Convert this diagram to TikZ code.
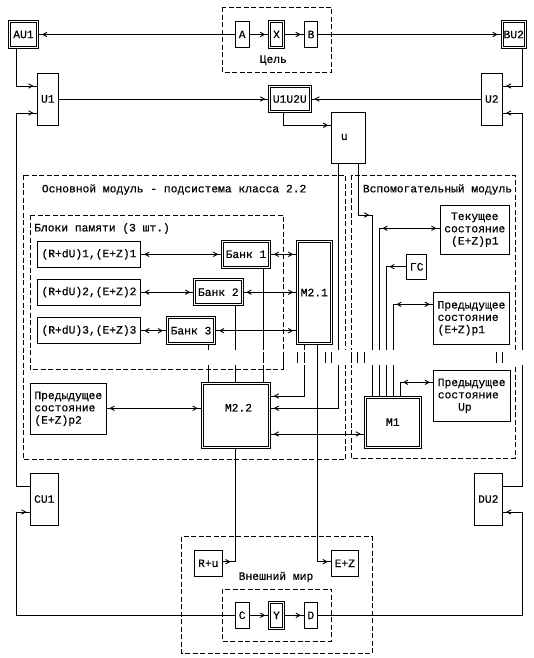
\documentclass[tikz,border=0pt]{standalone}
\usepackage{fontspec}
\newfontfamily\dmono[FakeBold=0.4]{Liberation Mono}
\usetikzlibrary{decorations.markings}
\tikzset{
  every node/.style={font=\dmono\fontsize{11.3pt}{12.3pt}\selectfont, inner sep=0pt},
  ln/.style={line width=0.9pt},
  bx/.style={draw, line width=0.9pt, inner sep=0pt, fill=white},
  dbx/.style={draw, line width=0.8pt, inner sep=0pt, fill=white,
    path picture={\draw[line width=0.8pt] ([shift={(2pt,-2pt)}]path picture bounding box.north west) rectangle ([shift={(-2pt,2pt)}]path picture bounding box.south east);}},
  dsh/.style={line width=0.9pt, dash pattern=on 5pt off 2.5pt},
  ae/.style={postaction={decorate, decoration={markings, mark=at position -0.01pt with {\draw[line width=0.9pt, solid] (-8pt,2.2pt) -- (-4pt,0pt) -- (-8pt,-2.2pt);}}}},
  as/.style={postaction={decorate, decoration={markings, mark=at position 0.01pt with {\draw[line width=0.9pt, solid] (8pt,2.2pt) -- (4pt,0pt) -- (8pt,-2.2pt);}}}},
  aer/.style={postaction={decorate, decoration={markings, mark=at position -0.01pt with {\draw[line width=0.9pt, solid] (-2.5pt,2.2pt) -- (-6.5pt,0pt) -- (-2.5pt,-2.2pt);}}}},
}
\begin{document}
\begin{tikzpicture}[x=1pt,y=-1pt]
\fill[white] (0,0) rectangle (534,658);
\useasboundingbox (0,0) rectangle (534,658);

% dashed frames
\draw[dsh] (222.3,7.3) rectangle (331.7,72.3);
\draw[dsh] (23.3,175) rectangle (345.7,459.3);
\draw[dsh] (30,215) rectangle (283.3,369.3);
\draw[dsh] (351.7,175) rectangle (515,458.3);
\draw[dsh] (181.7,536.7) rectangle (372.3,653.3);
\draw[dsh] (222.3,589) rectangle (331.7,641);

% top row
\node[dbx, minimum width=30.2pt, minimum height=28.2pt] (AU1) at (23.5,34.5) {AU1};
\node[bx, minimum width=14.3pt, minimum height=26pt] (A) at (242.2,34.5) {A};
\node[dbx, minimum width=15.6pt, minimum height=28.2pt] (X) at (276.5,34.5) {X};
\node[bx, minimum width=13.4pt, minimum height=26pt] (B) at (311,34.5) {B};
\node[dbx, minimum width=25.2pt, minimum height=28.2pt] (BU2) at (513.7,34.5) {BU2};
\node (tcel) at (273.3,60.3) {Цель};

\node[bx, minimum width=21.7pt, minimum height=52pt] (U1) at (47.8,99) {U1};
\node[dbx, minimum width=42.2pt, minimum height=26.9pt] (U1U2U) at (289.8,99) {U1U2U};
\node[bx, minimum width=21.7pt, minimum height=52pt] (U2) at (491.8,99) {U2};
\node[bx, minimum width=33.3pt, minimum height=51.3pt] (u) at (348.3,137.7) {};
\node (ulab) at (344.3,137) {u};

% main module
\node[anchor=west] (tmain) at (41.7,189.5) {Основной модуль - подсистема класса 2.2};
\node[anchor=west] (tmem) at (34,228.5) {Блоки памяти (3 шт.)};
\node[bx, minimum width=103.4pt, minimum height=25.6pt] (R1) at (89,254.3) {(R+dU)1,(E+Z)1};
\node[bx, minimum width=103.4pt, minimum height=25.6pt] (R2) at (89,292.2) {(R+dU)2,(E+Z)2};
\node[bx, minimum width=103.4pt, minimum height=26pt] (R3) at (89,330.7) {(R+dU)3,(E+Z)3};
\node[dbx, minimum width=48.6pt, minimum height=27.5pt] (Bank1) at (246,254.3) {Банк 1};
\node[dbx, minimum width=49.2pt, minimum height=26.9pt] (Bank2) at (218.3,292.2) {Банк 2};
\node[dbx, minimum width=49.2pt, minimum height=27.7pt] (Bank3) at (191,330.7) {Банк 3};
\node[dbx, minimum width=35.2pt, minimum height=104.2pt] (M21) at (314.3,292.5) {M2.1};
\node[dbx, minimum width=69.2pt, minimum height=65.5pt] (M22) at (235.7,415.2) {};
\node (m22lab) at (238.5,407.7) {M2.2};
\node[bx, minimum width=75.3pt, minimum height=51pt, align=left] (P2) at (68.3,408.8) {Предыдущее\\состояние\\(E+Z)p2};

% aux module
\node[anchor=west] (taux) at (362.7,189.5) {Вспомогательный модуль};
\node[bx, minimum width=69.7pt, minimum height=49.3pt, align=center] (TS) at (474.8,229.7) {Текущее\\состояние\\(E+Z)p1};
\node[bx, minimum width=20pt, minimum height=25pt] (GS) at (416.7,266.8) {ГС};
\node[bx, minimum width=76.4pt, minimum height=51.3pt, align=left] (PP1) at (471.5,318.3) {Предыдущее\\состояние\\(E+Z)p1};
\node[bx, minimum width=76.7pt, minimum height=50.3pt, align=left] (PUp) at (471.7,395.8) {Предыдущее\\состояние\\\phantom{000}Up};
\node[dbx, minimum width=56.9pt, minimum height=51.5pt] (M1) at (392.8,422.2) {M1};

% bottom
\node[bx, minimum width=28.7pt, minimum height=52pt] (CU1) at (44.3,499) {CU1};
\node[bx, minimum width=28.7pt, minimum height=52pt] (DU2) at (488.3,499) {DU2};
\node[bx, minimum width=28.7pt, minimum height=26.7pt] (Ru) at (208.3,563.3) {R+u};
\node[bx, minimum width=27pt, minimum height=26.7pt] (EZ) at (344.8,563.3) {E+Z};
\node (tworld) at (276,577) {Внешний мир};
\node[bx, minimum width=14.3pt, minimum height=26pt] (C) at (242.2,615.3) {C};
\node[dbx, minimum width=15.6pt, minimum height=28.5pt] (Y) at (276.5,615.3) {Y};
\node[bx, minimum width=13pt, minimum height=26pt] (D) at (310.8,615.3) {D};

% routing coordinates
\coordinate (k1) at (16,86);
\coordinate (p1) at (16,486);
\coordinate (p2) at (16,113);
\coordinate (q1) at (522.7,86);
\coordinate (q2) at (522.7,486);
\coordinate (q3) at (522.7,113);
\coordinate (r1) at (283.7,125.3);
\coordinate (s1) at (16,615.3);
\coordinate (s2) at (16,512);
\coordinate (t1) at (522.7,615.3);
\coordinate (t2) at (522.7,512);
\coordinate (b1) at (263.3,300);
\coordinate (b2) at (235,300);
\coordinate (b3) at (208.3,300);
\coordinate (m1) at (150,408.3);
\coordinate (v1) at (304.3,396);
\coordinate (v2) at (338.3,408.3);
\coordinate (v3) at (300,434);
\coordinate (w1) at (235.7,561.7);
\coordinate (w2) at (317.7,561.7);
\coordinate (x1) at (358.3,215);
\coordinate (x2) at (372.3,215);
\coordinate (y1) at (379.3,228.3);
\coordinate (y2) at (386.3,266.7);
\coordinate (y3) at (393.3,304.3);
\coordinate (y4) at (400,382.3);

% connectors top
\draw[ln,ae] (A.west) -- (AU1.east);
\draw[ln,ae] (A.east) -- (X.west);
\draw[ln,ae] (X.east) -- (B.west);
\draw[ln,ae] (B.east) -- (BU2.west);
\draw[ln,ae] (AU1.south -| k1) -- (k1) -- (U1.west |- k1);
\draw[ln,ae] (CU1.west |- p1) -- (p1) -- (p2) -- (U1.west |- p2);
\draw[ln,ae] (U1.east) -- (U1U2U.west);
\draw[ln,ae] (U2.west) -- (U1U2U.east);
\draw[ln,ae] (BU2.south -| q1) -- (q1) -- (U2.east |- q1);
\draw[ln,ae] (DU2.east |- q2) -- (q2) -- (q3) -- (U2.east |- q3);
\draw[ln,ae] (U1U2U.south -| r1) -- (r1) -- (u.west |- r1);

% bottom connectors
\draw[ln,ae] (C.west) -- (s1) -- (s2) -- (CU1.west |- s2);
\draw[ln,ae] (C.east) -- (Y.west);
\draw[ln,ae] (Y.east) -- (D.west);
\draw[ln,ae] (D.east) -- (t1) -- (t2) -- (DU2.east |- t2);

% main module connectors
\draw[ln,ae,as] (R1.east) -- (Bank1.west);
\draw[ln,ae,as] (R2.east) -- (Bank2.west);
\draw[ln,ae,as] (R3.east) -- (Bank3.west);
\draw[ln,ae,as] (Bank1.east) -- (M21.west |- Bank1.east);
\draw[ln,ae,as] (Bank2.east) -- (M21.west |- Bank2.east);
\draw[ln,ae,as] (Bank3.east) -- (M21.west |- Bank3.east);
\draw[ln] (Bank1.south -| b1) -- (M22.north -| b1);
\draw[ln] (Bank2.south -| b2) -- (M22.north -| b2);
\draw[ln] (Bank3.south -| b3) -- (M22.north -| b3);
\draw[ln,ae,as] (P2.east |- m1) -- (M22.west |- m1);
\draw[ln,ae] (M21.south -| v1) -- (v1) -- (M22.east |- v1);
\draw[ln,ae] (u.south -| v2) -- (v2) -- (M22.east |- v2);
\draw[ln,ae,as] (M22.east |- v3) -- (M1.west |- v3);
\draw[ln,aer] (M22.south -| w1) -- (w1) -- (Ru.east |- w1);
\draw[ln,ae] (M21.south -| w2) -- (w2) -- (EZ.west |- w2);

% aux connectors
\draw[ln] (u.south -| x1) -- (x1);
\draw[ln,ae] (x1) -- (x2);
\draw[ln] (x2) -- (M1.north -| x2);
\draw[ln,as,ae] (y1) -- (TS.west |- y1);
\draw[ln] (y1) -- (M1.north -| y1);
\draw[ln,as] (y2) -- (GS.west |- y2);
\draw[ln] (y2) -- (M1.north -| y2);
\draw[ln,as,ae] (y3) -- (PP1.west |- y3);
\draw[ln] (y3) -- (M1.north -| y3);
\draw[ln,as,ae] (y4) -- (PUp.west |- y4);
\draw[ln] (y4) -- (M1.north -| y4);

% shifted row (as printed in the original)
\fill[white] (200,350) rectangle (530,365);
\foreach \gx in {263.3,297.7,304.3,317.7,325,331.7,351.7,357.7,364,496.7,502.7}
  \draw[ln] (\gx,351.7) -- (\gx,363.3);
\draw[ln] (283.3,351.7) -- (283.3,369.3);
\draw[ln] (317.7,349) -- (317.7,366);
\end{tikzpicture}
\end{document}
